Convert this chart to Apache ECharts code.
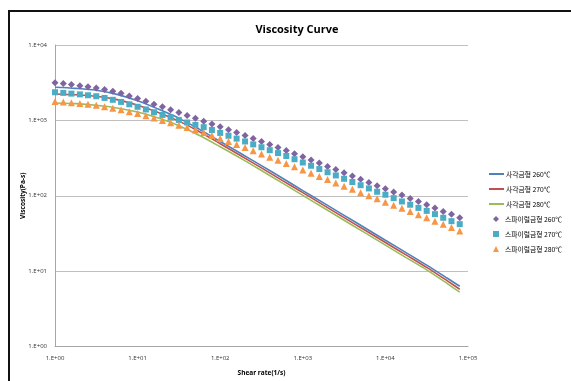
<!DOCTYPE html>
<html>
<head>
<meta charset="utf-8">
<script src="https://cdn.jsdelivr.net/npm/echarts@6/dist/echarts.min.js"></script>
<style>
html,body{margin:0;padding:0;background:#fff;}
#container{width:571px;height:381px;}
</style>
</head>
<body>
<div id="container"></div>
<script>
var dom = document.getElementById("container");
var myChart = echarts.init(dom);

// shear rate of the measured points (1/s)
var shearRate = [1, 1.26, 1.58, 2, 2.51, 3.16, 3.98, 5.01, 6.31, 7.94,
  10, 12.6, 15.8, 20, 25.1, 31.6, 39.8, 50.1, 63.1, 79.4,
  100, 126, 158, 200, 251, 316, 398, 501, 631, 794,
  1000, 1259, 1585, 1995, 2512, 3162, 3981, 5012, 6310, 7943,
  10000, 12589, 15849, 19953, 25119, 31623, 39811, 50119, 63096, 79433];

// spiral mold points
var spiral260 = [3162, 3090, 2985, 2884, 2786, 2692, 2570, 2427, 2291, 2113,
  1950, 1799, 1641, 1514, 1387, 1271, 1164, 1067, 977, 895,
  820, 752, 689, 631, 575, 525, 479, 437, 398, 361,
  328, 299, 271, 245, 223, 202, 183, 166, 150, 136,
  124, 112, 102, 92, 84, 76, 69, 62, 57, 51];
var spiral270 = [2360, 2317, 2265, 2213, 2153, 2089, 1986, 1875, 1758, 1633,
  1514, 1396, 1282, 1180, 1096, 1014, 938, 871, 813, 745,
  682, 625, 573, 525, 480, 440, 402, 368, 337, 305,
  276, 250, 226, 205, 186, 168, 152, 138, 125, 113,
  103, 93, 84, 76, 69, 63, 57, 51, 46, 42];
var spiral280 = [1778, 1750, 1718, 1679, 1633, 1585, 1521, 1452, 1380, 1306,
  1230, 1153, 1076, 1000, 929, 863, 802, 745, 692, 631,
  575, 525, 479, 437, 395, 359, 325, 295, 267, 243,
  220, 199, 180, 164, 148, 134, 122, 110, 100, 91,
  82, 75, 68, 62, 56, 51, 46, 42, 38, 34];

// square mold curves
var curveRate = [1, 1.78, 3.16, 5.62, 10, 17.8, 31.6, 56.2, 100, 178, 316,
  562, 1000, 1778, 3162, 5623, 10000, 17783, 31623, 56234, 79433];
var square260 = [2754, 2661, 2512, 2213, 1820, 1413, 1072, 759, 525, 363, 251,
  172, 117, 80.4, 55.0, 37.6, 25.7, 17.6, 12.0, 8.04, 6.3];
var square270 = [2239, 2188, 2089, 1884, 1585, 1274, 977, 708, 490, 339, 234,
  160, 110, 75.0, 51.3, 35.1, 24.0, 16.4, 11.2, 7.41, 5.75];
var square280 = [1698, 1667, 1585, 1462, 1288, 1072, 851, 631, 447, 313, 216,
  148, 101, 69.2, 47.3, 32.4, 22.1, 15.1, 10.4, 6.84, 5.25];

var lineNames = ['사각금형 260℃', '사각금형 270℃', '사각금형 280℃'];
var markNames = ['스파이럴금형 260℃', '스파이럴금형 270℃', '스파이럴금형 280℃'];

function pairs(xs, ys) {
  var out = [];
  for (var i = 0; i < xs.length; i++) out.push([xs[i], ys[i]]);
  return out;
}
function expLabel(v) {
  var e = Math.round(Math.log10(v));
  return '1.E+' + (e < 10 ? '0' : '') + e;
}

var fontLatin = 'Open Sans, Noto Sans CJK KR, sans-serif';
var fontKr = 'Noto Sans CJK KR, sans-serif';

function lineSeries(name, ys, color) {
  return {
    name: name, type: 'line', data: pairs(curveRate, ys),
    symbol: 'none', smooth: 0.3,
    lineStyle: { color: color, width: 1.6 },
    itemStyle: { color: color },
    z: 2
  };
}
function markSeries(name, ys, color, symbol, size) {
  return {
    name: name, type: 'scatter', data: pairs(shearRate, ys),
    symbol: symbol, symbolSize: size,
    itemStyle: { color: color, opacity: 1 },
    z: 3
  };
}

var legendText = { fontFamily: fontKr, fontSize: 6.8, lineHeight: 9, color: '#000' };

var option = {
  animation: false,
  backgroundColor: '#fff',
  title: {
    text: 'Viscosity Curve',
    left: 292, top: 19,
    textAlign: 'center',
    textStyle: { fontFamily: fontLatin, fontSize: 11, fontWeight: 'bold', color: '#000' }
  },
  graphic: [{
    type: 'rect', shape: { x: 9, y: 11, width: 600, height: 400 },
    style: { fill: 'none', stroke: '#111', lineWidth: 2 }, silent: true
  }],
  legend: [{
    data: lineNames, orient: 'vertical', left: 488, top: 169.5, padding: 0,
    itemWidth: 15, itemHeight: 2, itemGap: 6,
    textStyle: Object.assign({ padding: [0, 0, 0, -3] }, legendText)
  }, {
    data: markNames.map(function (n, i) { return { name: n, icon: ['diamond', 'rect', 'triangle'][i] }; }),
    orient: 'vertical', left: 493, top: 214.5, padding: 0,
    itemWidth: 6, itemHeight: 6, itemGap: 6,
    textStyle: Object.assign({ padding: [0, 0, 0, 1] }, legendText)
  }],
  grid: { left: 55, right: 103, top: 45, bottom: 32 },
  xAxis: {
    type: 'log', logBase: 10, min: 1, max: 100000,
    name: 'Shear rate(1/s)', nameLocation: 'middle', nameGap: 23,
    nameTextStyle: { fontFamily: fontLatin, fontSize: 6.5, fontWeight: 'bold', color: '#000' },
    axisLine: { lineStyle: { color: '#a6a6a6', width: 1 } },
    axisTick: { show: false },
    splitLine: { show: false },
    axisLabel: { formatter: expLabel, fontFamily: fontLatin, fontSize: 6, color: '#333', margin: 9 }
  },
  yAxis: {
    type: 'log', logBase: 10, min: 1, max: 10000,
    name: 'Viscosity(Pa-s)', nameLocation: 'middle', nameGap: 29, nameRotate: 90,
    nameMoveOverlap: false,
    nameTextStyle: { fontFamily: fontLatin, fontSize: 6.5, fontWeight: 'bold', color: '#000' },
    axisLine: { show: true, lineStyle: { color: '#a6a6a6', width: 1 } },
    axisTick: { show: false },
    splitLine: { show: true, lineStyle: { color: '#c0c0c0', width: 1 } },
    axisLabel: { formatter: expLabel, fontFamily: fontLatin, fontSize: 6, color: '#333', margin: 8 }
  },
  series: [
    lineSeries(lineNames[0], square260, '#4F81BD'),
    lineSeries(lineNames[1], square270, '#C0504D'),
    lineSeries(lineNames[2], square280, '#9BBB59'),
    markSeries(markNames[0], spiral260, '#8064A2', 'diamond', 7),
    markSeries(markNames[1], spiral270, '#4BACC6', 'rect', 6),
    markSeries(markNames[2], spiral280, '#F79646', 'triangle', 7)
  ]
};

myChart.setOption(option);
</script>
</body>
</html>
